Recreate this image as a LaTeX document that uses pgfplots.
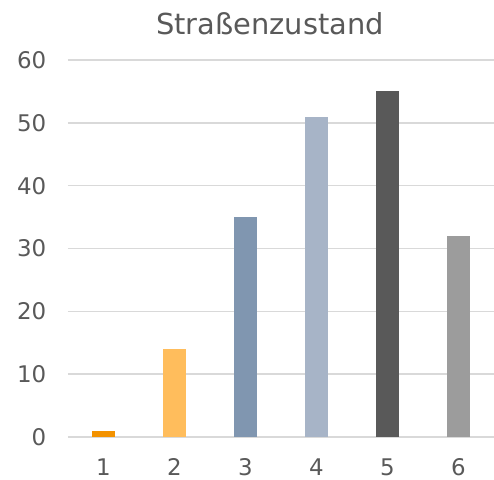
\documentclass[border=0pt]{standalone}
\usepackage{pgfplots}
\pgfplotsset{compat=1.18}
\usepackage{fontspec}
\setmainfont{DejaVu Sans}
\definecolor{txt}{HTML}{595959}
\definecolor{gridc}{HTML}{D9D9D9}
\definecolor{c1}{HTML}{F39200}
\definecolor{c2}{HTML}{FFBD5C}
\definecolor{c3}{HTML}{8096B0}
\definecolor{c4}{HTML}{A7B4C7}
\definecolor{c5}{HTML}{595959}
\definecolor{c6}{HTML}{9C9C9C}
\begin{document}
\begin{tikzpicture}
\path[use as bounding box] (0,0) rectangle (494bp,480bp);
\node[text=txt, font=\fontsize{29}{34}\selectfont, anchor=base] at (270bp,445bp) {Straßenzustand};
\begin{axis}[
  at={(67.8bp,43bp)}, anchor=south west,
  scale only axis, width=426.2bp, height=377bp,
  xmin=0.5, xmax=6.5, ymin=0, ymax=60,
  ytick={0,10,...,60}, xtick={1,...,6},
  axis line style={draw=none},
  tick style={draw=none},
  ymajorgrids, grid style={gridc, line width=1.4bp},
  ticklabel style={text=txt, font=\fontsize{23}{27}\selectfont},
  /pgf/number format/assume math mode=true,
  yticklabel style={xshift=-18bp},
  xticklabel style={anchor=base, inner sep=0pt, yshift=-34bp},
  ybar, bar width=23bp, bar shift=0pt,
  clip=false,
]
\addplot[fill=c1, draw=none] coordinates {(1,1)};
\addplot[fill=c2, draw=none] coordinates {(2,14)};
\addplot[fill=c3, draw=none] coordinates {(3,35)};
\addplot[fill=c4, draw=none] coordinates {(4,51)};
\addplot[fill=c5, draw=none] coordinates {(5,55)};
\addplot[fill=c6, draw=none] coordinates {(6,32)};
\end{axis}
\end{tikzpicture}
\end{document}
